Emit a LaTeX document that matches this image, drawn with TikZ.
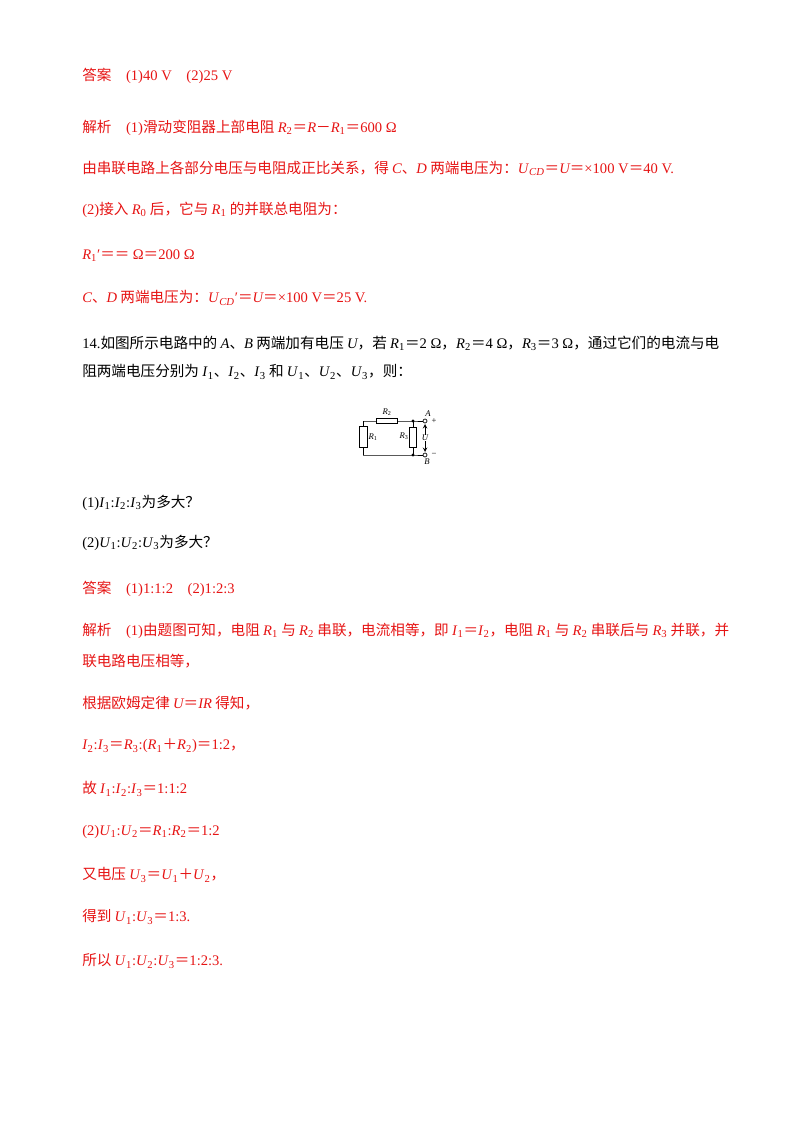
\documentclass[tikz,border=0pt]{standalone}
\usepackage{fontspec}
\setmainfont{Noto Sans CJK SC}
\newfontfamily\lat{Liberation Serif}
\newcommand\La[1]{{\lat #1}}
\newcommand\It[1]{{\lat\itshape #1}}
\newcommand\VS[2]{{\lat\textit{#1}\textsubscript{#2}}}
\newcommand\VI[2]{{\lat\textit{#1}\textsubscript{\textit{#2}}}}
\begin{document}
\begin{tikzpicture}[x=0.75pt,y=-0.75pt,
  ln/.style={anchor=west,inner sep=0pt,font=\fontsize{10.95}{12}\selectfont},
  red/.style={text={rgb,255:red,230;green,20;blue,20}},
  w/.style={line width=0.5pt},
  res/.style={draw,line width=0.5pt,fill=white,minimum width=#1,inner sep=0pt}]
\useasboundingbox (0,0) rectangle (800,1132);
\node[ln,red] (l1) at (82,76) {答案\quad\La{(1)40 V}\quad\La{(2)25 V}};
\node[ln,red] (l2) at (82,128) {解析\quad\La{(1)}滑动变阻器上部电阻 \VS{R}{2}＝\It{R}－\VS{R}{1}＝\La{600 Ω}};
\node[ln,red] (l3) at (82,168) {由串联电路上各部分电压与电阻成正比关系，得 \It{C}、\It{D} 两端电压为：\VI{U}{CD}＝\It{U}＝\La{×100 V}＝\La{40 V.}};
\node[ln,red] (l4) at (82,210) {\La{(2)}接入 \VS{R}{0} 后，它与 \VS{R}{1} 的并联总电阻为：};
\node[ln,red] (l5) at (82,256) {\VS{R}{1}\La{′}＝＝\ \La{Ω}＝\La{200 Ω}};
\node[ln,red] (l6) at (82,298) {\It{C}、\It{D} 两端电压为：\VI{U}{CD}\La{′}＝\It{U}＝\La{×100 V}＝\La{25 V.}};
\node[ln] (l7) at (82,343) {\La{14.}如图所示电路中的 \It{A}、\It{B} 两端加有电压 \It{U}，若 \VS{R}{1}＝\La{2 Ω}，\VS{R}{2}＝\La{4 Ω}，\VS{R}{3}＝\La{3 Ω}，通过它们的电流与电};
\node[ln] (l8) at (82,372) {阻两端电压分别为 \VS{I}{1}、\VS{I}{2}、\VS{I}{3} 和 \VS{U}{1}、\VS{U}{2}、\VS{U}{3}，则：};
\node[ln] (q1) at (82,503) {\La{(1)}\VS{I}{1}\La{:}\VS{I}{2}\La{:}\VS{I}{3}为多大？};
\node[ln] (q2) at (82,543) {\La{(2)}\VS{U}{1}\La{:}\VS{U}{2}\La{:}\VS{U}{3}为多大？};
\node[ln,red] (a1) at (82,589) {答案\quad\La{(1)1:1:2}\quad\La{(2)1:2:3}};
\node[ln,red] (a2) at (82,631) {解析\quad\La{(1)}由题图可知，电阻 \VS{R}{1} 与 \VS{R}{2} 串联，电流相等，即 \VS{I}{1}＝\VS{I}{2}，电阻 \VS{R}{1} 与 \VS{R}{2} 串联后与 \VS{R}{3} 并联，并};
\node[ln,red] (a3) at (82,661) {联电路电压相等，};
\node[ln,red] (a4) at (82,703) {根据欧姆定律 \It{U}＝\It{IR} 得知，};
\node[ln,red] (a5) at (82,746) {\VS{I}{2}\La{:}\VS{I}{3}＝\VS{R}{3}\La{:(}\VS{R}{1}＋\VS{R}{2}\La{)}＝\La{1:2}，};
\node[ln,red] (a6) at (82,789) {故 \VS{I}{1}\La{:}\VS{I}{2}\La{:}\VS{I}{3}＝\La{1:1:2}};
\node[ln,red] (a7) at (82,832) {\La{(2)}\VS{U}{1}\La{:}\VS{U}{2}＝\VS{R}{1}\La{:}\VS{R}{2}＝\La{1:2}};
\node[ln,red] (a8) at (82,875) {又电压 \VS{U}{3}＝\VS{U}{1}＋\VS{U}{2}，};
\node[ln,red] (a9) at (82,917) {得到 \VS{U}{1}\La{:}\VS{U}{3}＝\La{1:3.}};
\node[ln,red] (a10) at (82,961) {所以 \VS{U}{1}\La{:}\VS{U}{2}\La{:}\VS{U}{3}＝\La{1:2:3.}};
% circuit
\coordinate (tl) at (363,421); \coordinate (bl) at (363,455);
\coordinate (tj) at (413,421); \coordinate (bj) at (413,455);
\node[circle,draw,w,inner sep=0pt,minimum size=3pt,fill=white] (ta) at (425,421) {};
\node[circle,draw,w,inner sep=0pt,minimum size=3pt,fill=white] (tb) at (425,455) {};
\draw[w] (tl) -- (tj) -- (ta) (bl) -- (bj) -- (tb) (tl) -- (bl) (tj) -- (bj);
\node[res=6pt,minimum height=16pt] (r1) at (363,437) {};
\node[res=16pt,minimum height=4pt] (r2) at (387,421) {};
\node[res=5pt,minimum height=15pt] (r3) at (413,437) {};
\fill (tj) circle (1.3pt) (bj) circle (1.3pt);
\node[font=\lat\itshape\fontsize{6.5}{7}\selectfont,inner sep=0pt] (u) at (425,438) {U};
\draw[w,->,>={stealth},shorten >=0.5pt] (u) -- (ta);
\draw[w,->,>={stealth},shorten >=0.5pt] (u) -- (tb);
\node[font=\lat\fontsize{6.5}{7}\selectfont,inner sep=0pt] at (387,412) {\textit{R}\textsubscript{2}};
\node[font=\lat\fontsize{6.5}{7}\selectfont,inner sep=0pt] at (373,437) {\textit{R}\textsubscript{1}};
\node[font=\lat\fontsize{6.5}{7}\selectfont,inner sep=0pt] at (404,436) {\textit{R}\textsubscript{3}};
\node[font=\lat\itshape\fontsize{6.5}{7}\selectfont,inner sep=0pt] at (428,414) {A};
\node[font=\lat\itshape\fontsize{6.5}{7}\selectfont,inner sep=0pt] at (427,462) {B};
\node[font=\lat\fontsize{6.5}{7}\selectfont,inner sep=0pt] at (434,421) {+};
\node[font=\lat\fontsize{6.5}{7}\selectfont,inner sep=0pt] at (434,455) {−};
\end{tikzpicture}
\end{document}
